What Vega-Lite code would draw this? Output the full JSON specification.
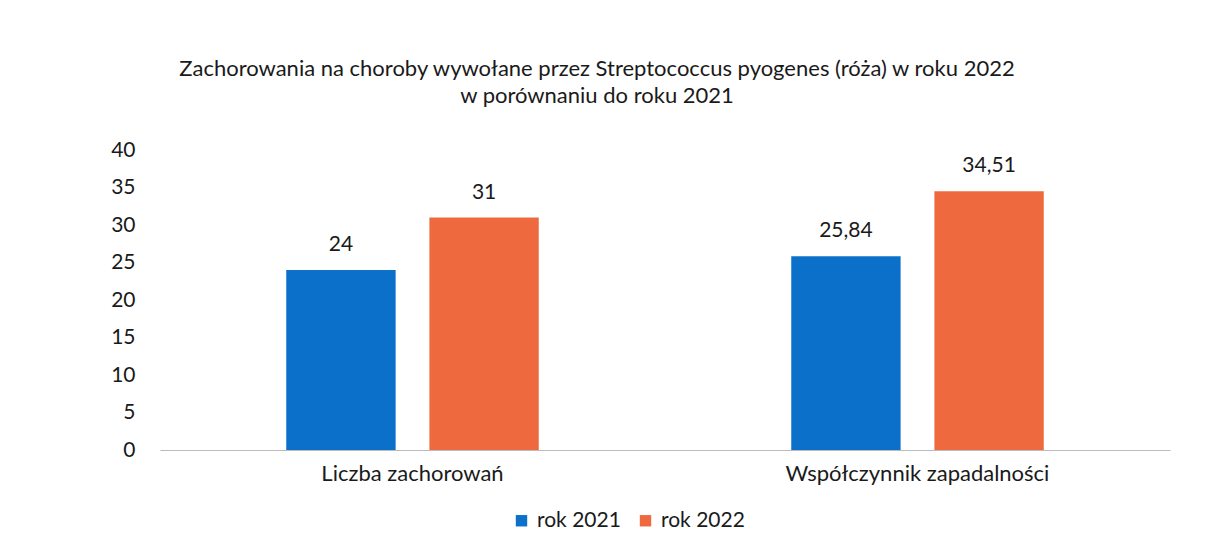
{
  "$schema": "https://vega.github.io/schema/vega-lite/v6.json",
  "width": 1010,
  "height": 300,
  "autosize": {"type": "none"},
  "padding": {"left": 160, "top": 150, "right": 58, "bottom": 106},
  "background": "white",
  "title": {
    "text": ["Zachorowania na choroby wywołane przez Streptococcus pyogenes (róża) w roku 2022", "w porównaniu do roku 2021"],
    "font": "Lato",
    "fontSize": 22,
    "fontWeight": "normal",
    "color": "#1a1a1a",
    "lineHeight": 27,
    "anchor": "middle",
    "dx": -68,
    "offset": 31
  },
  "config": {
    "view": {"stroke": null},
    "locale": {"number": {"decimal": ",", "thousands": " ", "grouping": [3], "currency": ["", " zł"]}},
    "font": "Lato"
  },
  "data": {
    "values": [
      {"kategoria": "Liczba zachorowań", "rok": "rok 2021", "wartosc": 24},
      {"kategoria": "Liczba zachorowań", "rok": "rok 2022", "wartosc": 31},
      {"kategoria": "Współczynnik zapadalności", "rok": "rok 2021", "wartosc": 25.84},
      {"kategoria": "Współczynnik zapadalności", "rok": "rok 2022", "wartosc": 34.51}
    ]
  },
  "encoding": {
    "x": {
      "field": "kategoria", "type": "nominal", "sort": null,
      "scale": {"paddingInner": 0.5, "paddingOuter": 0.25},
      "axis": {"title": null, "labelAngle": 0, "labelFontSize": 22, "labelColor": "#1a1a1a", "labelFont": "Lato", "labelLimit": 0, "ticks": false, "labelPadding": 13, "domainColor": "#bbbbbb", "domainWidth": 1}
    },
    "xOffset": {"field": "rok", "type": "nominal", "scale": {"paddingInner": 0.236, "paddingOuter": 0}},
    "y": {
      "field": "wartosc", "type": "quantitative",
      "scale": {"domain": [0, 40]},
      "axis": {"title": null, "values": [0, 5, 10, 15, 20, 25, 30, 35, 40], "grid": false, "domain": false, "ticks": false, "labelFontSize": 21, "labelColor": "#1a1a1a", "labelFont": "Lato", "labelPadding": 25}
    }
  },
  "layer": [
    {
      "mark": {"type": "bar"},
      "encoding": {
        "color": {
          "field": "rok", "type": "nominal",
          "scale": {"domain": ["rok 2021", "rok 2022"], "range": ["#0A70CA", "#EE6A3E"]},
          "legend": {
            "title": null, "orient": "none", "direction": "horizontal",
            "legendX": 351, "legendY": 360,
            "symbolType": "square", "symbolSize": 130, "symbolStrokeWidth": 0,
            "labelFontSize": 21, "labelColor": "#1a1a1a", "labelFont": "Lato",
            "columnPadding": 14, "labelOffset": 5
          }
        }
      }
    },
    {
      "mark": {"type": "text", "baseline": "bottom", "dy": -15, "fontSize": 21, "color": "#1a1a1a", "font": "Lato"},
      "encoding": {
        "text": {"field": "wartosc", "type": "quantitative", "format": ".2~f"}
      }
    }
  ]
}
